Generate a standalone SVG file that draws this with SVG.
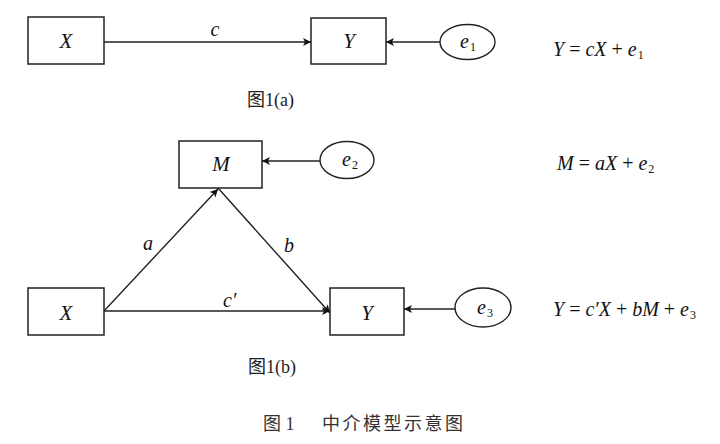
<svg xmlns="http://www.w3.org/2000/svg" width="720" height="444" viewBox="0 0 720 444">
<defs>
<style>
.box{fill:#fff;stroke:#222;stroke-width:1.5}
.ell{fill:#fff;stroke:#222;stroke-width:1.4}
.ln{fill:none;stroke:#222;stroke-width:1.4;marker-end:url(#ah)}
.m{font-family:"Liberation Serif","Times New Roman",serif;font-style:italic;font-size:20px;fill:#111}
.lbl{font-size:21px}
.up{font-style:normal}
.sub{font-style:normal;font-size:12px}
.cap{font-family:"Liberation Serif","Noto Sans CJK SC",serif;font-size:18px;fill:#222}
.fig{font-family:"Liberation Serif","Noto Sans CJK SC",serif;font-size:18px;fill:#333}
</style>
<marker id="ah" viewBox="0 0 10 10" refX="10" refY="5" markerUnits="userSpaceOnUse" markerWidth="9" markerHeight="8" orient="auto">
<path d="M0,0 L10,5 L0,10 L2.5,5 z" fill="#111"/>
</marker>
</defs>
<rect width="720" height="444" fill="#fff"/>

<g id="connectors">
<line class="ln" x1="104" y1="42" x2="311" y2="42"/>
<line class="ln" x1="440" y1="42" x2="386" y2="42"/>
<line class="ln" x1="104" y1="311" x2="218" y2="189"/>
<line class="ln" x1="218" y1="188" x2="330" y2="313"/>
<line class="ln" x1="104" y1="311" x2="330" y2="311"/>
<line class="ln" x1="320" y1="161" x2="262" y2="161"/>
<line class="ln" x1="455" y1="309" x2="404" y2="309"/>
<text class="m" x="215" y="36" text-anchor="middle">c</text>
<text class="m" x="143" y="250">a</text>
<text class="m" x="284" y="252">b</text>
<text class="m" x="223" y="307">c′</text>
</g>

<g id="node-X-a">
<rect class="box" x="28" y="17" width="76" height="47"/>
<text class="m lbl" x="66" y="48" text-anchor="middle">X</text>
</g>
<g id="node-Y-a">
<rect class="box" x="311" y="18" width="75" height="46"/>
<text class="m lbl" x="349" y="48" text-anchor="middle">Y</text>
</g>
<g id="node-e1">
<ellipse class="ell" cx="467.5" cy="42" rx="27.5" ry="17.5"/>
<text class="m" x="460" y="48">e<tspan class="sub" dx="1" dy="3">1</tspan></text>
</g>

<g id="node-M">
<rect class="box" x="179" y="141" width="83" height="47"/>
<text class="m lbl" x="221" y="171" text-anchor="middle">M</text>
</g>
<g id="node-e2">
<ellipse class="ell" cx="347" cy="160" rx="27" ry="18.5"/>
<text class="m" x="342" y="166">e<tspan class="sub" dx="1" dy="3">2</tspan></text>
</g>
<g id="node-X-b">
<rect class="box" x="28" y="288" width="76" height="47"/>
<text class="m lbl" x="66" y="320" text-anchor="middle">X</text>
</g>
<g id="node-Y-b">
<rect class="box" x="330" y="288" width="74" height="47"/>
<text class="m lbl" x="367" y="320" text-anchor="middle">Y</text>
</g>
<g id="node-e3">
<ellipse class="ell" cx="483" cy="307.5" rx="28" ry="19.5"/>
<text class="m" x="477" y="314">e<tspan class="sub" dx="1" dy="3">3</tspan></text>
</g>

<g id="equations">
<text class="m" x="553" y="56">Y <tspan class="up">=</tspan> cX <tspan class="up">+</tspan> e<tspan class="sub" dx="1" dy="3">1</tspan></text>
<text class="m" x="557" y="170">M <tspan class="up">=</tspan> aX <tspan class="up">+</tspan> e<tspan class="sub" dx="1" dy="3">2</tspan></text>
<text class="m" x="553" y="316">Y <tspan class="up">=</tspan> c′X <tspan class="up">+</tspan> bM <tspan class="up">+</tspan> e<tspan class="sub" dx="1" dy="3">3</tspan></text>
</g>

<g id="captions">
<text class="cap" x="247" y="106">图1(a)</text>
<text class="cap" x="248" y="373">图1(b)</text>
<text class="fig" x="263" y="430">图 1</text>
<text class="fig" x="322" y="430" letter-spacing="2.5">中介模型示意图</text>
</g>
</svg>
